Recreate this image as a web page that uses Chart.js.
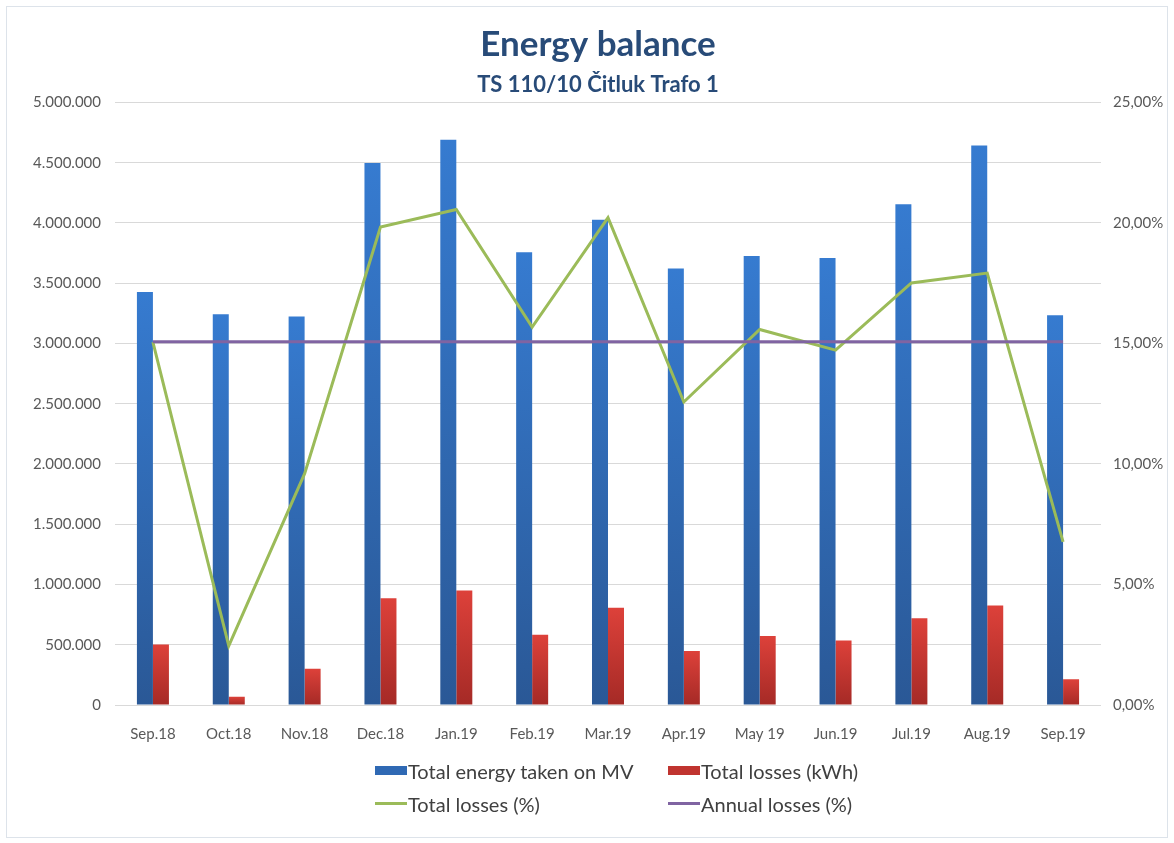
<!DOCTYPE html>
<html>
<head>
<meta charset="utf-8">
<title>Energy balance</title>
<script src="https://cdn.jsdelivr.net/npm/chart.js@4.4.1/dist/chart.umd.min.js"></script>
<style>
  html, body { margin: 0; padding: 0; background: #ffffff; }
  #wrap { position: relative; width: 1174px; height: 843px; overflow: hidden; background: #ffffff; }
  #frame { position: absolute; left: 6px; top: 6px; width: 1162px; height: 832px; border: 1px solid #dde3ea; box-sizing: border-box; }
  #chart { position: absolute; left: 0; top: 0; }
  #legend {
    position: absolute; left: 375px; top: 754px;
    display: grid; grid-template-columns: 293px auto; grid-auto-rows: 33px;
    font-family: Lato, "Open Sans", sans-serif; font-size: 20px; color: #404040;
  }
  .item { display: flex; align-items: center; white-space: nowrap; }
  .sw-box { width: 32px; height: 9px; margin-right: 1px; }
  .sw-line { width: 32px; height: 3px; margin-right: 1px; }
</style>
</head>
<body>
<div id="wrap">
  <div id="frame"></div>
  <canvas id="chart" width="1174" height="843"></canvas>
  <div id="legend"></div>
</div>
<script>
// Months of the reporting period
const months = ['Sep.18', 'Oct.18', 'Nov.18', 'Dec.18', 'Jan.19', 'Feb.19', 'Mar.19',
                'Apr.19', 'May 19', 'Jun.19', 'Jul.19', 'Aug.19', 'Sep.19'];

// Total energy taken on MV (kWh)
const energyMV = [3427000, 3242000, 3223000, 4497000, 4691000, 3756000, 4027000,
                  3621000, 3726000, 3709000, 4154000, 4643000, 3234000];

// Total losses (kWh)
const lossesKWh = [503000, 69000, 301000, 885000, 951000, 583000, 807000,
                   448000, 572000, 536000, 719000, 826000, 213000];

// Total losses (%)
const lossesPct = [15.05, 2.45, 9.6, 19.83, 20.56, 15.68, 20.22,
                   12.57, 15.58, 14.72, 17.51, 17.92, 6.77];

// Annual losses (%), same value for every month
const annualPct = 15.07;
const annualLine = months.map(() => annualPct);

// Axis ranges
const leftMax = 5000000, leftStep = 500000;
const rightMax = 25, rightStep = 5;

const FONT = 'Lato, "Open Sans", sans-serif';
const TITLE_COLOR = '#284b78';
const TICK_COLOR = '#595959';

// Per-bar vertical gradient, lighter at the top of each bar
function barGradient(topColor, bottomColor) {
  return (ctx) => {
    const chart = ctx.chart;
    const area = chart.chartArea;
    if (!area || ctx.raw == null) return topColor;
    const y = chart.scales.y;
    const yTop = y.getPixelForValue(ctx.raw);
    const yBot = y.getPixelForValue(0);
    if (!isFinite(yTop) || Math.abs(yBot - yTop) < 1) return topColor;
    const g = chart.ctx.createLinearGradient(0, yTop, 0, yBot);
    g.addColorStop(0, topColor);
    g.addColorStop(1, bottomColor);
    return g;
  };
}

const seriesStyle = [
  { kind: 'box',  color: '#2f69b4' },
  { kind: 'box',  color: '#c0342f' },
  { kind: 'line', color: '#9bbb59' },
  { kind: 'line', color: '#8064a2' }
];

function thousands(v) {
  return String(Math.round(v)).replace(/\B(?=(\d{3})+(?!\d))/g, '.');
}

const chart = new Chart(document.getElementById('chart'), {
  data: {
    labels: months,
    datasets: [
      {
        type: 'bar', label: 'Total energy taken on MV', data: energyMV, yAxisID: 'y',
        backgroundColor: barGradient('#367bd0', '#2a5896'),
        categoryPercentage: 0.422, barPercentage: 1.0, order: 3
      },
      {
        type: 'bar', label: 'Total losses (kWh)', data: lossesKWh, yAxisID: 'y',
        backgroundColor: barGradient('#dd413a', '#a52a26'),
        categoryPercentage: 0.422, barPercentage: 1.0, order: 3
      },
      {
        type: 'line', label: 'Total losses (%)', data: lossesPct, yAxisID: 'y1',
        borderColor: '#9bbb59', borderWidth: 3, pointRadius: 0, tension: 0,
        fill: false, order: 2
      },
      {
        type: 'line', label: 'Annual losses (%)', data: annualLine, yAxisID: 'y1',
        borderColor: '#8064a2', borderWidth: 3, pointRadius: 0, tension: 0,
        fill: false, order: 1
      }
    ]
  },
  options: {
    responsive: false,
    animation: false,
    devicePixelRatio: 1,
    layout: { padding: { left: 22, right: 0, top: 0, bottom: 0 } },
    plugins: {
      legend: { display: false },
      tooltip: { enabled: false },
      title: {
        display: true, text: 'Energy balance', color: TITLE_COLOR,
        font: { family: FONT, size: 35, weight: 'bold', lineHeight: 1.2 },
        padding: { top: 24, bottom: 0 }
      },
      subtitle: {
        display: true, text: 'TS 110/10 Čitluk Trafo 1', color: TITLE_COLOR,
        font: { family: FONT, size: 22, weight: 'bold', lineHeight: 1.2 },
        padding: { top: 6, bottom: 4 }
      }
    },
    scales: {
      x: {
        grid: { display: false },
        border: { display: false },
        ticks: { color: TICK_COLOR, font: { family: FONT, size: 15 }, padding: 12, maxRotation: 0, autoSkip: false },
        afterFit: (s) => { s.height = 138; }
      },
      y: {
        position: 'left', min: 0, max: leftMax,
        grid: { color: '#d9d9d9', lineWidth: 1, drawTicks: false },
        border: { display: false },
        ticks: {
          stepSize: leftStep, color: TICK_COLOR, padding: 14,
          font: { family: FONT, size: 15 },
          callback: (v) => thousands(v)
        },
        afterFit: (s) => { s.width = 93; }
      },
      y1: {
        position: 'right', min: 0, max: rightMax,
        grid: { drawOnChartArea: false, drawTicks: false },
        border: { display: false },
        ticks: {
          stepSize: rightStep, color: TICK_COLOR, padding: 12,
          font: { family: FONT, size: 15 },
          callback: (v) => v.toFixed(2).replace('.', ',') + '%'
        },
        afterFit: (s) => { s.width = 73; }
      }
    }
  }
});

// Two-row legend below the plot
const legendEl = document.getElementById('legend');
chart.data.datasets.forEach((ds, i) => {
  const st = seriesStyle[i];
  const item = document.createElement('div');
  item.className = 'item';
  const sw = document.createElement('span');
  sw.className = st.kind === 'box' ? 'sw-box' : 'sw-line';
  sw.style.background = st.color;
  const txt = document.createElement('span');
  txt.textContent = ds.label;
  item.appendChild(sw);
  item.appendChild(txt);
  legendEl.appendChild(item);
});
</script>
</body>
</html>
